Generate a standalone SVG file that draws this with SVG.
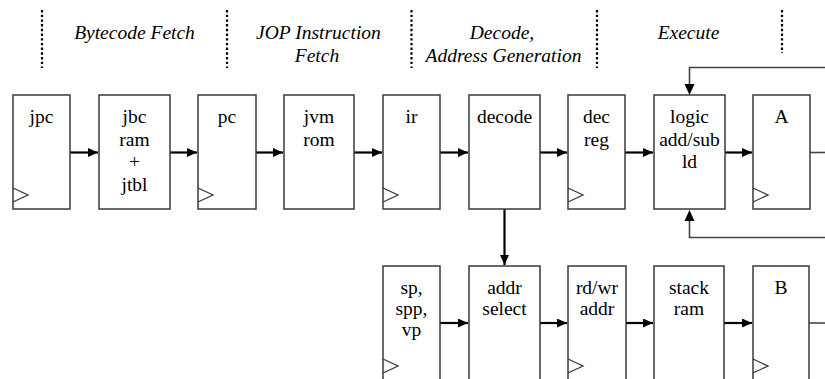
<svg xmlns="http://www.w3.org/2000/svg" width="825" height="379" viewBox="0 0 825 379">
<defs>
<marker id="ah" markerUnits="userSpaceOnUse" markerWidth="11" markerHeight="9" refX="10" refY="4.5" orient="auto">
<path d="M0,0 L10,4.5 L0,9 z" fill="#000"/>
</marker>
<style>
.box{fill:#fff;stroke:#3a3a3a;stroke-width:1.5}
.clk{fill:none;stroke:#3a3a3a;stroke-width:1.3}
text{font-family:'Liberation Serif','DejaVu Serif',serif;font-size:19.5px;text-anchor:middle;fill:#000}
.h{font-style:italic}
.dot{stroke:#000;stroke-width:2.2;stroke-dasharray:2.4 2.3}
.c{stroke:#000;stroke-width:2.2;fill:none}
.fb{stroke:#444;stroke-width:1.6;fill:none}
</style>
</defs>
<rect width="825" height="379" fill="#fff"/>
<g id="stages" font-family="Liberation Serif, serif">
<line class="dot" x1="42" y1="10" x2="42" y2="68"/>
<line class="dot" x1="227" y1="10" x2="227" y2="68"/>
<line class="dot" x1="411.5" y1="10" x2="411.5" y2="68"/>
<line class="dot" x1="597" y1="10" x2="597" y2="68"/>
<line class="dot" x1="782" y1="10" x2="782" y2="53"/>
<text class="h" x="134.5" y="39">Bytecode Fetch</text>
<text class="h" x="318.5" y="39">JOP Instruction</text>
<text class="h" x="317" y="62">Fetch</text>
<text class="h" x="502" y="39">Decode,</text>
<text class="h" x="503.5" y="62">Address Generation</text>
<text class="h" x="688.5" y="39">Execute</text>
</g>
<g id="connectors">
<line class="c" x1="70" y1="152.5" x2="98" y2="152.5" marker-end="url(#ah)"/>
<line class="c" x1="170" y1="152.5" x2="197" y2="152.5" marker-end="url(#ah)"/>
<line class="c" x1="256" y1="152.5" x2="283" y2="152.5" marker-end="url(#ah)"/>
<line class="c" x1="354" y1="152.5" x2="382" y2="152.5" marker-end="url(#ah)"/>
<line class="c" x1="440" y1="152.5" x2="468" y2="152.5" marker-end="url(#ah)"/>
<line class="c" x1="540" y1="152.5" x2="567" y2="152.5" marker-end="url(#ah)"/>
<line class="c" x1="625" y1="152.5" x2="653" y2="152.5" marker-end="url(#ah)"/>
<line class="c" x1="725" y1="152.5" x2="752" y2="152.5" marker-end="url(#ah)"/>
<line class="fb" x1="810" y1="152.5" x2="825" y2="152.5"/>
<line class="c" x1="440" y1="323" x2="468" y2="323" marker-end="url(#ah)"/>
<line class="c" x1="540" y1="323" x2="567" y2="323" marker-end="url(#ah)"/>
<line class="c" x1="626" y1="323" x2="653" y2="323" marker-end="url(#ah)"/>
<line class="c" x1="724" y1="323" x2="752" y2="323" marker-end="url(#ah)"/>
<line class="fb" x1="809" y1="323" x2="825" y2="323"/>
<line class="c" x1="504.5" y1="209" x2="504.5" y2="265" marker-end="url(#ah)"/>
<path class="fb" d="M825,67.5 H689.5 V85"/>
<path d="M684.5,84 L694.5,84 L689.5,95 z" fill="#000"/>
<path class="fb" d="M825,237.5 H689.5 V220"/>
<path d="M684.5,221 L694.5,221 L689.5,210 z" fill="#000"/>
</g>
<g id="jpc"><rect class="box" x="13" y="95" width="57" height="114"/><path class="clk" d="M13,188 L28,195 L13,202"/><text x="41.5" y="123">jpc</text></g>
<g id="jbc"><rect class="box" x="99" y="95" width="71" height="114"/><text x="134.5" y="123">jbc</text><text x="134.5" y="145.5">ram</text><text x="134.5" y="168">+</text><text x="134.5" y="190.5">jtbl</text></g>
<g id="pc"><rect class="box" x="198" y="95" width="58" height="114"/><path class="clk" d="M198,188 L213,195 L198,202"/><text x="227" y="123">pc</text></g>
<g id="jvmrom"><rect class="box" x="284" y="95" width="70" height="114"/><text x="319" y="123">jvm</text><text x="319" y="145.5">rom</text></g>
<g id="ir"><rect class="box" x="383" y="95" width="57" height="114"/><path class="clk" d="M383,188 L398,195 L383,202"/><text x="411.5" y="123">ir</text></g>
<g id="decode"><rect class="box" x="469" y="95" width="71" height="114"/><text x="504.5" y="123">decode</text></g>
<g id="decreg"><rect class="box" x="568" y="95" width="57" height="114"/><path class="clk" d="M568,188 L583,195 L568,202"/><text x="596.5" y="123">dec</text><text x="596.5" y="145.5">reg</text></g>
<g id="logic"><rect class="box" x="654" y="95" width="71" height="114"/><text x="689.5" y="123">logic</text><text x="689.5" y="145.5">add/sub</text><text x="689.5" y="168">ld</text></g>
<g id="A"><rect class="box" x="753" y="95" width="57" height="114"/><path class="clk" d="M753,188 L768,195 L753,202"/><text x="781.5" y="123">A</text></g>
<g id="sp"><rect class="box" x="383" y="266" width="57" height="130"/><path class="clk" d="M383,359 L398,366 L383,373"/><text x="411.5" y="294">sp,</text><text x="411.5" y="315">spp,</text><text x="411.5" y="336">vp</text></g>
<g id="addrselect"><rect class="box" x="469" y="266" width="71" height="130"/><text x="504.5" y="294">addr</text><text x="504.5" y="315">select</text></g>
<g id="rdwraddr"><rect class="box" x="568" y="266" width="58" height="130"/><path class="clk" d="M568,359 L583,366 L568,373"/><text x="597" y="294">rd/wr</text><text x="597" y="315">addr</text></g>
<g id="stackram"><rect class="box" x="654" y="266" width="70" height="130"/><text x="689" y="294">stack</text><text x="689" y="315">ram</text></g>
<g id="B"><rect class="box" x="753" y="266" width="56" height="130"/><path class="clk" d="M753,359 L768,366 L753,373"/><text x="781" y="294">B</text></g>
</svg>
